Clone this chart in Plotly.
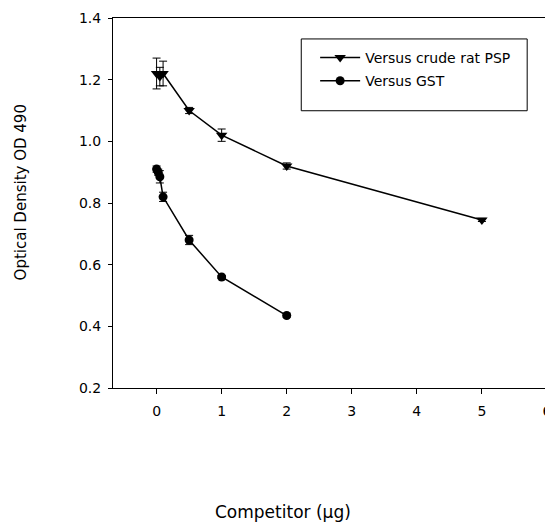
import plotly.graph_objects as go

psp_x = [0, 0.05, 0.1, 0.5, 1, 2, 5]
psp_y = [1.22, 1.21, 1.22, 1.10, 1.02, 0.92, 0.745]
psp_err = [0.05, 0.03, 0.04, 0.01, 0.02, 0.01, 0.005]

gst_x = [0, 0.025, 0.05, 0.1, 0.5, 1, 2]
gst_y = [0.91, 0.90, 0.885, 0.82, 0.68, 0.56, 0.435]
gst_err = [0.01, 0.01, 0.02, 0.015, 0.015, 0.005, 0.005]

x_ticks = [0, 1, 2, 3, 4, 5, 6]
y_ticks = [0.2, 0.4, 0.6, 0.8, 1.0, 1.2, 1.4]

font = "DejaVu Sans, Arial, sans-serif"

# the page body has an 8px margin; size the figure so it fills the 553x525 window
OFF = 8
W, H = 553 - OFF, 525 - OFF
l, r, t, b = 113 - OFF, 2, 17 - OFF, 525 - 388
pw, ph = W - l - r, H - t - b


def px(xv):  # viewport pixel -> paper
    return (xv - OFF - l) / pw


def py(yv):
    return (H - b - (yv - OFF)) / ph


fig = go.Figure()
fig.add_trace(go.Scatter(
    x=psp_x, y=psp_y, mode="lines+markers", name="Versus crude rat PSP",
    legendgroup="a",
    line=dict(color="black", width=1.5),
    marker=dict(symbol="triangle-down", size=10, color="black"),
    error_y=dict(type="data", array=psp_err, color="black", thickness=1, width=4),
))
fig.add_trace(go.Scatter(
    x=gst_x, y=gst_y, mode="lines+markers", name="Versus GST",
    legendgroup="b",
    line=dict(color="black", width=1.5),
    marker=dict(symbol="circle", size=9, color="black"),
    error_y=dict(type="data", array=gst_err, color="black", thickness=1, width=4),
))

fig.update_layout(
    width=W, height=H,
    margin=dict(l=l, r=r, t=t, b=b),
    paper_bgcolor="white", plot_bgcolor="white",
    font=dict(family=font, size=14, color="black"),
    showlegend=True,
    legend=dict(
        x=px(317), y=py(41), xanchor="left", yanchor="top",
        borderwidth=0, bgcolor="rgba(0,0,0,0)",
        font=dict(size=14), itemwidth=40, tracegroupgap=2,
    ),
    xaxis=dict(
        range=[-0.67, 6.001], tickvals=x_ticks, ticktext=[str(v) for v in x_ticks],
        showgrid=False, zeroline=False, showline=True, linecolor="black", linewidth=1,
        mirror=True, ticks="outside", ticklen=5, tickcolor="black",
        ticklabeloverflow="allow", ticklabelstandoff=5,
    ),
    yaxis=dict(
        range=[0.2, 1.4], tickvals=y_ticks, ticktext=[f"{v:.1f}" for v in y_ticks],
        showgrid=False, zeroline=False, showline=True, linecolor="black", linewidth=1,
        mirror=True, ticks="outside", ticklen=4, tickcolor="black",
        ticklabelstandoff=4,
    ),
    shapes=[dict(type="rect", xref="paper", yref="paper",
                 x0=px(303), x1=px(531), y0=py(110), y1=py(38),
                 line=dict(color="black", width=1), fillcolor="rgba(0,0,0,0)")],
    annotations=[
        dict(text="Competitor (μg)", x=px(285), y=py(512), xref="paper", yref="paper",
             xanchor="center", yanchor="middle", showarrow=False, font=dict(size=17)),
        dict(text="Optical Density OD 490", textangle=-90, x=px(20), y=py(192),
             xref="paper", yref="paper", xanchor="center", yanchor="middle",
             showarrow=False, font=dict(size=15)),
    ],
)

fig.write_html("out.html")
